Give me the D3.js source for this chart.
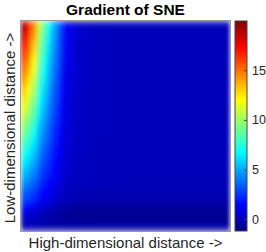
<!DOCTYPE html>
<html>
<head>
<meta charset="utf-8">
<script src="https://cdn.jsdelivr.net/npm/d3@7/dist/d3.min.js"></script>
<style>
  body { margin: 0; background: #fff; }
  text { font-family: "Liberation Sans", Arial, sans-serif; }
</style>
</head>
<body>
<div id="chart"></div>
<script>
// bin edges of the two distances (arbitrary units, no ticks shown)
const hiEdges = [0, 0.25, 0.5, 0.75, 1, 1.25, 1.5, 1.75, 2, 2.5, 3, 3.5, 4.5, 6, 8, 10];
const loEdges = [0, 0.25, 0.5, 0.75, 1, 1.25, 1.5, 2, 2.5, 3, 3.5, 4, 4.5, 5, 5.5, 6, 6.5, 7, 7.5, 8, 8.5, 9, 9.5, 10];

// gradient values, one row per low-dimensional bin (bottom row first)
const gradient = [
  [0.00, -0.03, -0.06, -0.11, -0.14, -0.16, -0.19, -0.21, -0.23, -0.24, -0.24, -0.25, -0.25, -0.25, -0.25],
  [0.09, 0.01, -0.09, -0.24, -0.32, -0.40, -0.47, -0.54, -0.61, -0.64, -0.64, -0.65, -0.65, -0.65, -0.65],
  [0.39, 0.25, 0.09, -0.16, -0.30, -0.42, -0.55, -0.66, -0.77, -0.82, -0.83, -0.84, -0.85, -0.85, -0.85],
  [0.92, 0.73, 0.50, 0.15, -0.04, -0.22, -0.39, -0.55, -0.71, -0.78, -0.79, -0.81, -0.81, -0.81, -0.81],
  [1.59, 1.35, 1.05, 0.60, 0.36, 0.13, -0.09, -0.30, -0.50, -0.59, -0.61, -0.63, -0.63, -0.63, -0.63],
  [2.31, 2.00, 1.65, 1.10, 0.79, 0.52, 0.24, 0.00, -0.25, -0.35, -0.38, -0.40, -0.42, -0.42, -0.42],
  [3.30, 2.92, 2.46, 1.76, 1.38, 1.03, 0.68, 0.36, 0.05, -0.09, -0.12, -0.15, -0.16, -0.16, -0.16],
  [4.43, 3.93, 3.35, 2.45, 1.95, 1.50, 1.05, 0.65, 0.24, 0.07, 0.03, -0.01, -0.03, -0.03, -0.03],
  [5.45, 4.84, 4.13, 3.03, 2.42, 1.87, 1.32, 0.83, 0.33, 0.12, 0.07, 0.02, 0, 0, 0],
  [6.44, 5.72, 4.88, 3.58, 2.86, 2.21, 1.56, 0.98, 0.39, 0.14, 0.08, 0.03, 0, 0, 0],
  [7.43, 6.60, 5.63, 4.13, 3.30, 2.55, 1.80, 1.13, 0.45, 0.17, 0.09, 0.03, 0, 0, 0],
  [8.42, 7.48, 6.38, 4.68, 3.74, 2.89, 2.04, 1.28, 0.51, 0.19, 0.10, 0.03, 0, 0, 0],
  [9.41, 8.36, 7.13, 5.23, 4.18, 3.23, 2.28, 1.43, 0.57, 0.21, 0.11, 0.04, 0, 0, 0],
  [10.40, 9.24, 7.88, 5.78, 4.62, 3.57, 2.52, 1.58, 0.63, 0.23, 0.13, 0.04, 0, 0, 0],
  [11.39, 10.12, 8.63, 6.33, 5.06, 3.91, 2.76, 1.73, 0.69, 0.25, 0.14, 0.05, 0, 0, 0],
  [12.38, 11.00, 9.38, 6.88, 5.50, 4.25, 3.00, 1.88, 0.75, 0.28, 0.15, 0.05, 0, 0, 0],
  [13.37, 11.88, 10.13, 7.43, 5.94, 4.59, 3.24, 2.03, 0.81, 0.30, 0.16, 0.05, 0, 0, 0],
  [14.36, 12.76, 10.88, 7.98, 6.38, 4.93, 3.48, 2.18, 0.87, 0.32, 0.17, 0.06, 0, 0, 0],
  [15.35, 13.64, 11.63, 8.53, 6.82, 5.27, 3.72, 2.33, 0.93, 0.34, 0.19, 0.06, 0, 0, 0],
  [16.34, 14.52, 12.38, 9.08, 7.26, 5.61, 3.96, 2.48, 0.99, 0.36, 0.20, 0.07, 0, 0, 0],
  [17.33, 15.40, 13.13, 9.63, 7.70, 5.95, 4.20, 2.63, 1.05, 0.39, 0.21, 0.07, 0, 0, 0],
  [18.32, 16.28, 13.88, 10.18, 8.14, 6.29, 4.44, 2.78, 1.11, 0.41, 0.22, 0.07, 0, 0, 0],
  [19.31, 17.16, 14.63, 10.73, 8.58, 6.63, 4.68, 2.93, 1.17, 0.43, 0.23, 0.08, 0, 0, 0]
];

const colorLimits = [-1.2, 19.96];
const colorTicks = [0, 5, 10, 15];

const plot = { left: 21, top: 21, right: 230, bottom: 231 };
const bar = { left: 235, right: 247 };

// jet colormap
const jetPos = [0, 0.125, 0.375, 0.625, 0.875, 1];
const jetCol = ['#000080', '#0000ff', '#00ffff', '#ffff00', '#ff0000', '#800000'];
const color = d3.scaleLinear()
  .domain(jetPos.map(p => colorLimits[0] + p * (colorLimits[1] - colorLimits[0])))
  .range(jetCol)
  .clamp(true);

const svg = d3.select('#chart')
  .append('svg')
  .attr('width', 266)
  .attr('height', 252);

const defs = svg.append('defs');

const smooth = defs.append('filter')
  .attr('id', 'smooth')
  .attr('x', 0).attr('y', 0).attr('width', 1).attr('height', 1);
smooth.append('feGaussianBlur')
  .attr('stdDeviation', '2 3.5')
  .attr('edgeMode', 'duplicate');

const x = d3.scaleLinear().domain([0, 10]).range([plot.left, plot.right]);
const y = d3.scaleLinear().domain([0, 10]).range([plot.bottom, plot.top]);

const heat = svg.append('g')
  .attr('filter', 'url(#smooth)');

gradient.forEach((row, i) => {
  row.forEach((v, j) => {
    heat.append('rect')
      .attr('x', x(hiEdges[j]))
      .attr('y', y(loEdges[i + 1]))
      .attr('width', x(hiEdges[j + 1]) - x(hiEdges[j]))
      .attr('height', y(loEdges[i]) - y(loEdges[i + 1]))
      .attr('fill', color(v))
      .attr('shape-rendering', 'crispEdges');
  });
});

// axes box
svg.append('rect')
  .attr('x', plot.left - 0.5)
  .attr('y', plot.top - 0.5)
  .attr('width', plot.right - plot.left + 1)
  .attr('height', plot.bottom - plot.top + 1)
  .attr('fill', 'none')
  .attr('stroke', '#9a9a9a')
  .attr('stroke-width', 1);

// colorbar
const cb = d3.scaleLinear().domain(colorLimits).range([plot.bottom, plot.top]);

const lg = defs.append('linearGradient')
  .attr('id', 'jet')
  .attr('x1', 0).attr('y1', 1).attr('x2', 0).attr('y2', 0);
jetPos.forEach((p, i) => {
  lg.append('stop').attr('offset', p).attr('stop-color', jetCol[i]);
});

svg.append('rect')
  .attr('x', bar.left)
  .attr('y', plot.top)
  .attr('width', bar.right - bar.left)
  .attr('height', plot.bottom - plot.top)
  .attr('fill', 'url(#jet)')
  .attr('stroke', '#444')
  .attr('stroke-width', 1);

const cbAxis = svg.append('g')
  .attr('transform', `translate(${bar.right},0)`)
  .call(d3.axisRight(cb).tickValues(colorTicks).tickSize(-3).tickPadding(5));
cbAxis.select('.domain').remove();
cbAxis.selectAll('line').attr('stroke', '#444');
cbAxis.selectAll('text')
  .style('font-family', '"Liberation Sans", Arial, sans-serif')
  .style('font-size', '12.5px')
  .attr('fill', '#262626');

svg.append('text')
  .attr('x', (plot.left + plot.right) / 2)
  .attr('y', 14.5)
  .attr('text-anchor', 'middle')
  .style('font-size', '15.5px')
  .style('font-weight', 'bold')
  .attr('fill', '#000')
  .text('Gradient of SNE');

svg.append('text')
  .attr('x', (plot.left + plot.right) / 2)
  .attr('y', 248)
  .attr('text-anchor', 'middle')
  .style('font-size', '15px')
  .attr('fill', '#262626')
  .text('High-dimensional distance ->');

svg.append('text')
  .attr('transform', `translate(15,${(plot.top + plot.bottom) / 2 + 2}) rotate(-90)`)
  .attr('text-anchor', 'middle')
  .style('font-size', '15px')
  .attr('fill', '#262626')
  .text('Low-dimensional distance ->');
</script>
</body>
</html>
